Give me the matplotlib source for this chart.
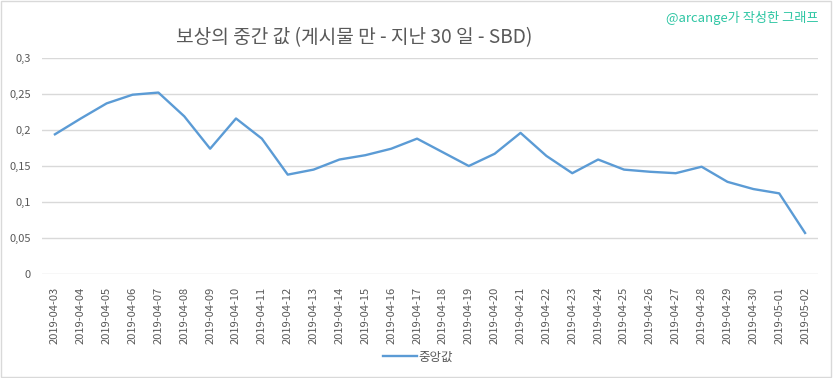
import matplotlib.pyplot as plt
from matplotlib.patches import Rectangle

plt.rcParams['font.family'] = ['Noto Sans CJK KR', 'DejaVu Sans']

# Datos del grafico
fechas = ['2019-04-03', '2019-04-04', '2019-04-05', '2019-04-06', '2019-04-07',
          '2019-04-08', '2019-04-09', '2019-04-10', '2019-04-11', '2019-04-12',
          '2019-04-13', '2019-04-14', '2019-04-15', '2019-04-16', '2019-04-17',
          '2019-04-18', '2019-04-19', '2019-04-20', '2019-04-21', '2019-04-22',
          '2019-04-23', '2019-04-24', '2019-04-25', '2019-04-26', '2019-04-27',
          '2019-04-28', '2019-04-29', '2019-04-30', '2019-05-01', '2019-05-02']
mediana = [0.194, 0.216, 0.237, 0.249, 0.252, 0.219, 0.174, 0.216, 0.188, 0.138,
           0.145, 0.159, 0.165, 0.174, 0.188, 0.169, 0.150, 0.167, 0.196, 0.164,
           0.140, 0.159, 0.145, 0.142, 0.140, 0.149, 0.128, 0.118, 0.112, 0.057]
yticks = [0, 0.05, 0.1, 0.15, 0.2, 0.25, 0.3]
ytick_labels = ['0', '0,05', '0,1', '0,15', '0,2', '0,25', '0,3']

gris = '#595959'

fig = plt.figure(figsize=(8.33, 3.78), dpi=100)
ax = fig.add_axes([42 / 833, 1 - 274 / 378, 776 / 833, 216 / 378])

x = list(range(len(fechas)))
ax.plot(x, mediana, color='#5b9bd5', linewidth=1.7, label='중앙값')

ax.set_xlim(-0.5, len(fechas) - 0.5)
ax.set_ylim(0, 0.3)
ax.set_yticks(yticks)
ax.set_yticklabels(ytick_labels, fontsize=8, color=gris)
ax.set_xticks(x)
ax.set_xticklabels(fechas, rotation=90, fontsize=8, color=gris)
ax.tick_params(length=0, pad=9)
ax.tick_params(axis='y', pad=8)
ax.grid(axis='y', color='#d9d9d9', linewidth=1)
ax.set_axisbelow(True)
for s in ax.spines.values():
    s.set_visible(False)

fig.text(354 / 833, 1 - 38 / 378, '보상의 중간 값 (게시물 만 - 지난 30 일 - SBD)',
         ha='center', va='center', fontsize=13.8, color=gris)
fig.text(818 / 833, 1 - 18 / 378, '@arcange가 작성한 그래프',
         ha='right', va='center', fontsize=9.5, color='#2fc6a4')

fig.legend(loc='center', bbox_to_anchor=(418 / 833, 1 - 357 / 378), frameon=False,
           fontsize=9, handlelength=2.7, handletextpad=0.1, labelcolor=gris)

# Borde del grafico
fig.patches.append(Rectangle((0.001, 0.002), 0.997, 0.995, transform=fig.transFigure,
                             fill=False, edgecolor='#d9d9d9', linewidth=1))

fig.savefig('out.png', dpi=100)
